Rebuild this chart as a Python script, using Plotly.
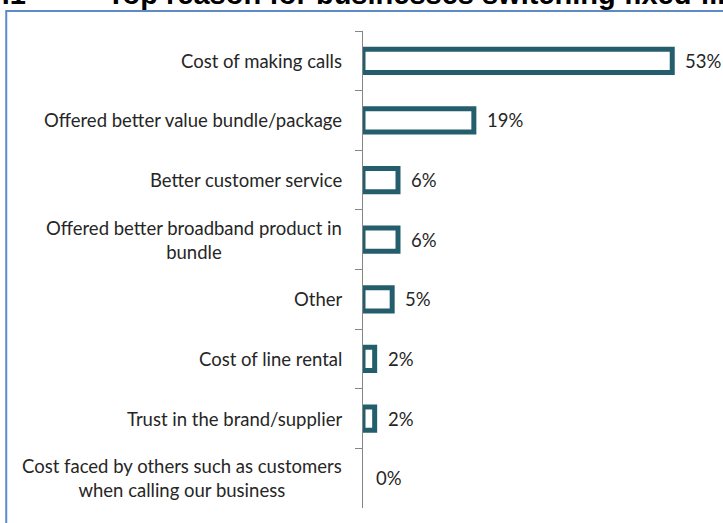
import plotly.graph_objects as go

# Survey results: top reason for switching fixed-line supplier
reasons = [
    "Cost of making calls",
    "Offered better value bundle/package",
    "Better customer service",
    "Offered better broadband product in<br>bundle",
    "Other",
    "Cost of line rental",
    "Trust in the brand/supplier",
    "Cost faced by others such as customers<br>when calling our business",
]
shares = [53, 19, 6, 6, 5, 2, 2, 0]
share_labels = ["53%", "19%", "6%", "6%", "5%", "2%", "2%", "0%"]

BAR_EDGE = "#245E6D"
TEXT = "#262626"
AXIS = "#868686"
FRAME = "#5E8AC7"
FONT = "Lato, Calibri, sans-serif"
FONT_SIZE = 18.5

# an empty bar gets no outline
edge_widths = [5 if v > 0 else 0 for v in shares]

fig = go.Figure(
    go.Bar(
        x=shares,
        y=reasons,
        orientation="h",
        marker=dict(color="white", line=dict(color=BAR_EDGE, width=edge_widths)),
        hoverinfo="skip",
    )
)

annotations = []
# category labels, centred line by line, right-aligned against the axis
for r in reasons:
    annotations.append(dict(
        x=0, xref="paper", y=r, yref="y", text=r, showarrow=False,
        xanchor="right", yanchor="middle", align="center", xshift=-19,
        font=dict(family=FONT, size=FONT_SIZE, color=TEXT),
    ))
# value labels just beyond the end of each bar
for r, v, lab in zip(reasons, shares, share_labels):
    annotations.append(dict(
        x=v, xref="x", y=r, yref="y", text=lab, showarrow=False,
        xanchor="left", yanchor="middle", xshift=11,
        font=dict(family=FONT, size=FONT_SIZE, color=TEXT),
    ))
# heading running off the top edge
annotations.append(dict(
    x=-0.717, xref="paper", y=1.0776, yref="paper",
    text="<b>Top reason for businesses switching fixed-line supplier</b>",
    showarrow=False, xanchor="left", yanchor="middle",
    font=dict(family="Liberation Sans, Arial, sans-serif", size=29, color="black"),
))
annotations.append(dict(
    x=-0.93, xref="paper", y=1.0776, yref="paper",
    text="<b>Figure 4.1</b>",
    showarrow=False, xanchor="right", yanchor="middle",
    font=dict(family="Liberation Sans, Arial, sans-serif", size=29, color="black"),
))

fig.update_layout(
    width=723,
    height=523,
    margin=dict(l=363, r=0, t=31, b=15, pad=0),
    paper_bgcolor="white",
    plot_bgcolor="white",
    showlegend=False,
    bargap=0.61,
    annotations=annotations,
    shapes=[
        # chart frame (left and top edges visible)
        dict(type="path", xref="paper", yref="paper",
             path="M -0.991 -0.2 L -0.991 1.042 L 1.2 1.042",
             line=dict(color=FRAME, width=2)),
    ],
    xaxis=dict(
        range=[0, 61.7], visible=False, fixedrange=True,
    ),
    yaxis=dict(
        autorange="reversed",
        type="category",
        showticklabels=False,
        showgrid=False,
        zeroline=False,
        showline=True,
        linecolor=AXIS,
        linewidth=1,
        ticks="outside",
        tickson="boundaries",
        ticklen=7,
        tickcolor=AXIS,
        tickwidth=1,
    ),
)

fig.write_html("out.html")
